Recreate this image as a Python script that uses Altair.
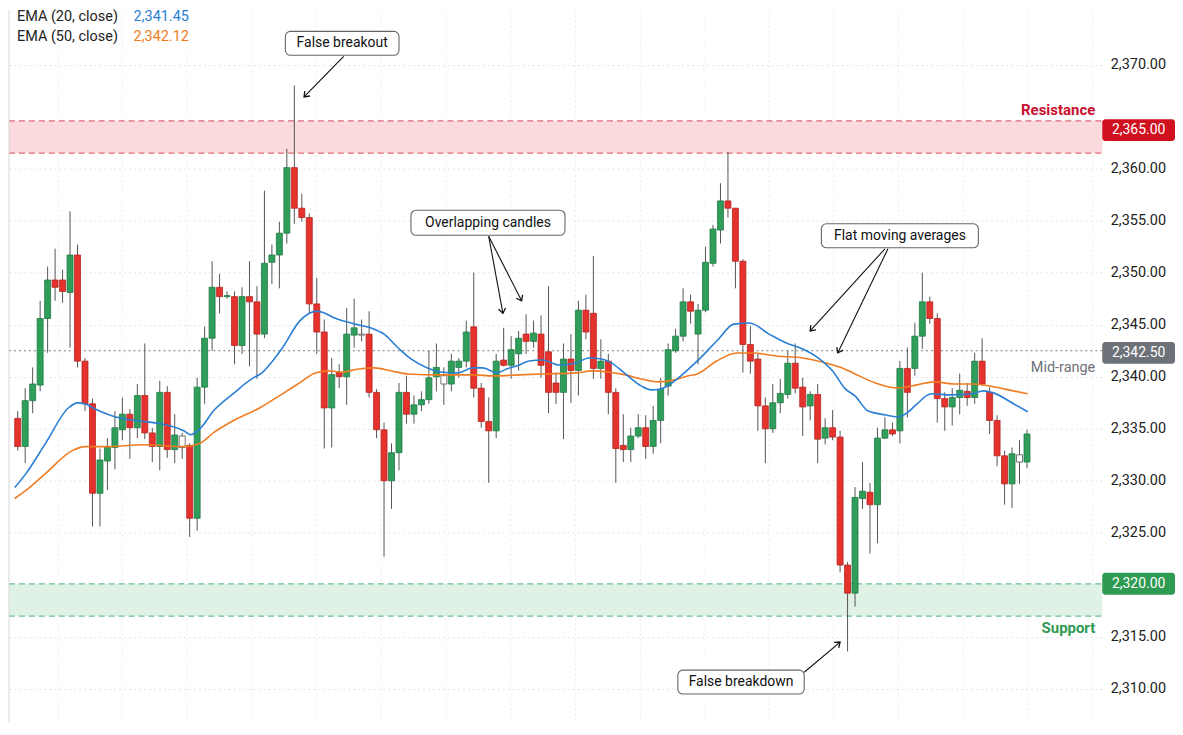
import math
import altair as alt
import pandas as pd

# ---------------- data ----------------
OPEN = [2336.0, 2333.3, 2337.7, 2339.2, 2345.6, 2349.3, 2349.3, 2348.1, 2351.7, 2341.5,
        2337.4, 2328.8, 2331.9, 2333.2, 2334.9, 2336.4, 2335.1, 2338.2, 2334.6, 2333.3,
        2338.5, 2333.0, 2333.2, 2333.4, 2326.4, 2339.0, 2343.7, 2348.6, 2347.7, 2347.7,
        2343.0, 2347.7, 2347.2, 2344.1, 2351.0, 2351.7, 2353.8, 2360.1, 2356.2, 2355.3,
        2347.0, 2344.3, 2337.0, 2340.4, 2340.0, 2344.0, 2344.1, 2344.1, 2338.5, 2334.9,
        2330.0, 2332.7, 2338.5, 2336.4, 2337.3, 2337.8, 2340.0, 2339.3, 2339.3, 2340.9,
        2341.5, 2344.8, 2338.9, 2335.7, 2334.8, 2341.6, 2341.1, 2342.2, 2344.1, 2343.4,
        2344.1, 2342.4, 2339.4, 2338.5, 2341.7, 2340.6, 2346.4, 2346.1, 2340.8, 2341.5,
        2338.5, 2333.4, 2333.0, 2334.3, 2335.1, 2333.3, 2335.8, 2339.1, 2342.5, 2343.9,
        2347.2, 2344.1, 2346.4, 2350.9, 2354.1, 2356.9, 2356.2, 2351.1, 2343.1, 2341.7,
        2337.2, 2335.0, 2337.5, 2338.3, 2341.3, 2339.0, 2337.2, 2338.3, 2334.1, 2335.1,
        2334.2, 2321.9, 2319.2, 2328.3, 2328.9, 2327.7, 2334.1, 2334.9, 2334.8, 2340.8,
        2340.8, 2343.9, 2347.2, 2345.6, 2337.9, 2337.1, 2338.0, 2338.6, 2338.0, 2341.5,
        2338.5, 2335.8, 2332.4, 2329.7, 2331.8, 2331.8]
HIGH = [2336.7, 2338.9, 2340.9, 2347.3, 2350.6, 2352.3, 2350.3, 2355.9, 2352.7, 2341.8,
        2337.9, 2333.1, 2334.1, 2336.7, 2338.0, 2336.9, 2339.3, 2343.2, 2335.1, 2339.6,
        2339.1, 2336.4, 2334.6, 2333.6, 2339.9, 2344.8, 2351.1, 2349.9, 2348.2, 2348.2,
        2348.6, 2351.1, 2348.7, 2357.9, 2352.7, 2354.9, 2361.9, 2368.0, 2357.6, 2355.7,
        2349.5, 2345.5, 2341.8, 2341.2, 2346.6, 2347.5, 2345.5, 2346.3, 2338.8, 2335.6,
        2333.6, 2339.4, 2340.1, 2338.2, 2338.6, 2342.5, 2343.2, 2340.9, 2342.2, 2341.8,
        2345.4, 2350.0, 2339.4, 2338.0, 2342.2, 2344.7, 2343.9, 2344.4, 2346.0, 2345.4,
        2345.9, 2348.7, 2340.4, 2343.2, 2344.1, 2347.3, 2347.9, 2351.6, 2343.6, 2342.2,
        2338.9, 2336.4, 2335.1, 2336.4, 2336.3, 2337.2, 2339.9, 2343.2, 2344.6, 2348.5,
        2347.9, 2347.0, 2352.5, 2354.6, 2358.6, 2361.6, 2356.2, 2351.3, 2344.9, 2342.2,
        2338.0, 2339.3, 2339.8, 2342.5, 2343.2, 2339.9, 2338.6, 2339.3, 2336.0, 2336.8,
        2334.8, 2322.2, 2329.4, 2331.8, 2329.8, 2335.1, 2336.1, 2335.6, 2341.5, 2342.8,
        2345.2, 2350.0, 2347.7, 2346.1, 2338.5, 2338.9, 2340.3, 2339.4, 2342.3, 2343.7,
        2339.0, 2336.3, 2332.9, 2333.2, 2333.9, 2334.9]
LOW = [2332.9, 2331.7, 2336.5, 2338.6, 2342.3, 2347.3, 2347.1, 2342.8, 2340.9, 2336.7,
       2325.6, 2325.6, 2329.1, 2331.1, 2333.9, 2332.1, 2334.1, 2334.0, 2331.8, 2331.0,
       2332.2, 2331.7, 2332.1, 2324.6, 2325.2, 2337.4, 2342.5, 2346.1, 2347.5, 2341.2,
       2342.2, 2341.0, 2339.8, 2343.7, 2348.9, 2348.5, 2352.8, 2354.7, 2354.9, 2346.1,
       2342.2, 2333.1, 2333.2, 2338.9, 2337.3, 2342.8, 2343.4, 2338.0, 2334.1, 2322.7,
       2327.3, 2331.0, 2335.5, 2335.5, 2336.7, 2337.4, 2338.6, 2337.3, 2338.6, 2339.9,
       2340.9, 2338.0, 2335.1, 2329.8, 2334.1, 2341.0, 2339.8, 2340.6, 2342.2, 2342.8,
       2339.9, 2336.5, 2337.4, 2334.0, 2337.5, 2338.2, 2343.6, 2339.8, 2339.8, 2336.4,
       2329.8, 2331.8, 2331.8, 2334.1, 2332.1, 2332.6, 2333.6, 2338.2, 2342.3, 2343.4,
       2345.1, 2341.2, 2346.2, 2350.6, 2352.8, 2355.3, 2348.5, 2340.4, 2340.3, 2334.8,
       2331.7, 2334.6, 2336.5, 2337.9, 2338.4, 2334.3, 2335.8, 2331.7, 2333.5, 2333.9,
       2321.2, 2313.6, 2317.9, 2327.3, 2323.0, 2324.0, 2334.0, 2334.3, 2333.6, 2336.1,
       2340.1, 2342.7, 2345.1, 2335.6, 2334.8, 2335.3, 2336.4, 2337.2, 2337.4, 2339.1,
       2334.5, 2331.4, 2327.7, 2327.4, 2329.7, 2331.2]
CLOSE = [2333.3, 2337.7, 2339.3, 2345.6, 2349.3, 2348.6, 2348.2, 2351.7, 2341.5, 2337.4,
         2328.8, 2332.0, 2333.2, 2335.1, 2336.4, 2335.1, 2338.2, 2334.6, 2333.3, 2338.5,
         2333.0, 2334.4, 2334.3, 2326.4, 2339.0, 2343.7, 2348.6, 2347.7, 2347.8, 2343.0,
         2347.7, 2347.2, 2344.1, 2350.9, 2351.7, 2353.8, 2360.1, 2356.2, 2355.3, 2347.0,
         2344.3, 2337.0, 2340.2, 2340.0, 2344.1, 2344.7, 2344.0, 2338.5, 2334.9, 2330.0,
         2332.7, 2338.5, 2336.4, 2337.3, 2337.8, 2339.9, 2340.9, 2340.1, 2341.5, 2341.5,
         2344.3, 2338.9, 2335.7, 2334.8, 2341.5, 2341.1, 2342.6, 2343.7, 2343.4, 2344.2,
         2341.1, 2338.5, 2338.5, 2341.7, 2340.6, 2346.4, 2344.3, 2340.8, 2341.5, 2338.5,
         2333.1, 2333.0, 2334.3, 2335.1, 2333.3, 2335.8, 2338.8, 2342.6, 2343.9, 2347.2,
         2346.3, 2346.4, 2351.0, 2354.2, 2356.9, 2356.2, 2351.1, 2343.1, 2341.5, 2337.2,
         2335.0, 2337.5, 2338.4, 2341.3, 2338.9, 2337.1, 2338.3, 2334.0, 2335.1, 2334.2,
         2321.9, 2319.2, 2328.4, 2329.0, 2327.7, 2334.1, 2334.9, 2334.5, 2340.8, 2338.5,
         2343.9, 2347.2, 2345.6, 2337.9, 2337.1, 2338.0, 2338.7, 2338.0, 2341.5, 2339.3,
         2335.8, 2332.4, 2329.7, 2332.6, 2332.5, 2334.5]
HOLLOW = [22, 46, 57, 134]

EMA20_X = [-0.4, 1.1, 3.7, 6.8, 8.0, 9.0, 10.3, 13.0, 16.0, 19.2, 22.2, 23.1, 24.5, 26.2,
           28.8, 31.5, 32.5, 34.1, 35.4, 37.7, 39.0, 40.1, 41.1, 42.4, 43.6, 45.1, 47.3,
           49.0, 50.9, 52.6, 54.8, 56.6, 58.8, 60.9, 62.2, 64.1, 65.4, 67.1, 68.4, 70.2,
           72.4, 74.7, 76.4, 78.1, 79.4, 81.3, 83.4, 84.7, 86.0, 87.3, 88.7, 90.9, 93.5,
           95.8, 97.9, 100.5, 102.8, 105.0, 107.1, 109.0, 110.7, 112.0, 113.7, 116.0,
           117.7, 119.0, 120.3, 122.2, 124.8, 127.5, 129.2, 130.5, 133.2, 135.1]
EMA20_Y = [2329.35, 2330.69, 2333.57, 2337.02, 2337.49, 2337.40, 2336.92, 2336.15, 2335.77,
           2335.48, 2334.81, 2334.43, 2335.10, 2336.73, 2338.36, 2339.89, 2340.27, 2341.52,
           2342.76, 2345.35, 2346.11, 2346.31, 2346.11, 2345.64, 2345.35, 2345.06, 2344.68,
           2344.10, 2342.76, 2341.71, 2340.85, 2340.46, 2340.37, 2340.85, 2340.85, 2340.37,
           2340.75, 2341.13, 2341.52, 2341.61, 2341.13, 2341.33, 2341.80, 2341.71, 2341.33,
           2340.27, 2339.12, 2338.74, 2338.83, 2339.31, 2340.08, 2341.52, 2343.43, 2345.06,
           2345.16, 2344.10, 2343.24, 2342.67, 2341.80, 2340.56, 2338.83, 2338.16, 2336.73,
           2336.34, 2336.15, 2336.54, 2337.40, 2338.36, 2338.26, 2338.36, 2338.64, 2338.45,
           2337.40, 2336.63]
EMA50_X = [-0.4, 1.1, 3.7, 7.3, 9.0, 11.7, 16.9, 22.2, 24.5, 26.2, 28.8, 32.4, 35.4, 37.7,
           39.8, 41.6, 43.4, 45.6, 47.7, 50.0, 52.2, 56.6, 60.9, 63.6, 67.1, 70.2, 74.7,
           76.8, 79.0, 81.3, 83.4, 85.6, 87.9, 89.6, 90.9, 93.5, 96.2, 98.4, 101.5, 105.0,
           108.1, 110.3, 112.0, 114.7, 117.7, 120.3, 122.6, 125.2, 127.9, 130.5, 133.2, 135.1]
EMA50_Y = [2328.30, 2329.07, 2330.69, 2332.90, 2333.28, 2333.28, 2333.47, 2333.28, 2333.66,
           2334.62, 2335.77, 2337.02, 2338.36, 2339.41, 2340.37, 2340.56, 2340.46, 2340.75,
           2340.85, 2340.56, 2340.27, 2340.18, 2340.18, 2340.08, 2340.18, 2340.27, 2340.37,
           2340.56, 2340.46, 2340.18, 2339.79, 2339.51, 2339.70, 2340.08, 2340.27, 2341.52,
           2342.28, 2342.28, 2341.99, 2341.80, 2341.33, 2340.85, 2340.27, 2339.41, 2338.93,
           2339.22, 2339.51, 2339.31, 2339.31, 2339.03, 2338.64, 2338.36]

RES_LO, RES_HI = 2361.5, 2364.6
SUP_LO, SUP_HI = 2317.0, 2320.1
MID = 2342.5

TAG_TEXT = ["2,365.00", "2,342.50", "2,320.00"]
TAG_PRICE = [2363.7, 2342.3, 2320.1]
TAG_KIND = ["res", "mid", "sup"]

ZONE_TEXT = ["Resistance", "Mid-range", "Support"]
ZONE_TEXT_PRICE = [2365.65, 2340.85, 2315.85]

BOX_TEXT = ["False breakout", "Overlapping candles", "Flat moving averages", "False breakdown"]
BOX_X0 = [35.8, 52.6, 107.5, 88.3]
BOX_X1 = [51.0, 73.2, 128.5, 105.2]
BOX_TOP = [2373.2, 2356.0, 2354.7, 2311.8]
BOX_BOT = [2370.9, 2353.6, 2352.4, 2309.5]

ARROW_X1 = [43.6, 63.0, 63.0, 116.0, 116.4, 105.2]
ARROW_Y1 = [2370.8, 2353.5, 2353.5, 2352.3, 2352.3, 2311.6]
ARROW_X2 = [38.3, 64.9, 67.4, 106.0, 109.7, 110.0]
ARROW_Y2 = [2366.9, 2346.1, 2347.3, 2344.4, 2342.3, 2314.5]

Y_TICKS = [2310, 2315, 2325, 2330, 2335, 2340, 2345, 2350, 2355, 2360, 2370]

# ---------------- layout ----------------
W, H = 1097, 715
XMIN, XMAX = -0.5, 144.4
YMIN, YMAX = 2306.74, 2375.23
FONT = "Roboto"
TAG_HALF = 1.05

xs = alt.Scale(domain=[XMIN, XMAX], nice=False, zero=False)
ys = alt.Scale(domain=[YMIN, YMAX], nice=False, zero=False)

n = len(OPEN)
kind = []
for i in range(n):
    if i in HOLLOW:
        kind.append("hollow")
    elif CLOSE[i] >= OPEN[i]:
        kind.append("up")
    else:
        kind.append("down")
candles = pd.DataFrame({"i": list(range(n)), "o": OPEN, "h": HIGH, "l": LOW,
                        "c": CLOSE, "k": kind})

ema20 = pd.DataFrame({"x": EMA20_X, "y": EMA20_Y})
ema50 = pd.DataFrame({"x": EMA50_X, "y": EMA50_Y})

X = alt.X("i:Q", scale=xs, title=None,
          axis=alt.Axis(labels=False, ticks=False, domain=False, grid=True,
                        values=[5.3 + 8.65 * k for k in range(17)],
                        gridColor="#ececec", gridDash=[2, 3]))
Y_AX = alt.Axis(orient="right", values=Y_TICKS, format=",.2f", title=None,
                domain=False, ticks=False, labelPadding=8, labelFontSize=14.5,
                labelColor="#222222", labelFont=FONT, grid=True,
                gridColor="#e4e4e4", gridDash=[2, 3])

wicks = alt.Chart(candles).mark_rule(color="#555555", strokeWidth=1).encode(
    x=X, y=alt.Y("l:Q", scale=ys, axis=Y_AX), y2="h:Q")

bodies = alt.Chart(candles).mark_bar(size=6, strokeWidth=0.8).encode(
    x=alt.X("i:Q", scale=xs),
    y=alt.Y("o:Q", scale=ys),
    y2="c:Q",
    fill=alt.Fill("k:N", scale=alt.Scale(domain=["up", "down", "hollow"],
                                         range=["#2f9e5a", "#e5322d", "#ffffff"]),
                  legend=None),
    stroke=alt.Stroke("k:N", scale=alt.Scale(domain=["up", "down", "hollow"],
                                             range=["#1f7a43", "#b52420", "#555555"]),
                      legend=None),
)

# zones
zones = pd.DataFrame({"lo": [RES_LO, SUP_LO], "hi": [RES_HI, SUP_HI], "z": ["res", "sup"]})
zone_rect = alt.Chart(zones).mark_rect().encode(
    x=alt.value(0), x2=alt.value(W),
    y=alt.Y("lo:Q", scale=ys), y2="hi:Q",
    fill=alt.Fill("z:N", scale=alt.Scale(domain=["res", "sup"], range=["#fadadd", "#dff2e5"]),
                  legend=None))
zone_edges = pd.DataFrame({"y": [RES_LO, RES_HI, SUP_LO, SUP_HI],
                           "z": ["res", "res", "sup", "sup"]})
zone_lines = alt.Chart(zone_edges).mark_rule(strokeDash=[6, 4], strokeWidth=1.2).encode(
    x=alt.value(0), x2=alt.value(W),
    y=alt.Y("y:Q", scale=ys),
    color=alt.Color("z:N", scale=alt.Scale(domain=["res", "sup"], range=["#e06a78", "#6cc08c"]),
                    legend=None))
mid_line = alt.Chart(pd.DataFrame({"y": [MID]})).mark_rule(
    strokeDash=[2, 3], color="#777777", strokeWidth=1.2).encode(
    x=alt.value(0), x2=alt.value(W), y=alt.Y("y:Q", scale=ys))

left_border = alt.Chart(pd.DataFrame({"a": [0]})).mark_rule(color="#d8d8d8").encode(
    x=alt.value(0), y=alt.value(0), y2=alt.value(H))

# EMA lines
l20 = alt.Chart(ema20).mark_line(color="#2a7fd4", strokeWidth=1.6, interpolate="monotone").encode(
    x=alt.X("x:Q", scale=xs), y=alt.Y("y:Q", scale=ys))
l50 = alt.Chart(ema50).mark_line(color="#f07c22", strokeWidth=1.6, interpolate="monotone").encode(
    x=alt.X("x:Q", scale=xs), y=alt.Y("y:Q", scale=ys))

# right tags
tags = pd.DataFrame({"t": TAG_TEXT, "p": TAG_PRICE, "k": TAG_KIND})
tags["lo"] = tags["p"] - TAG_HALF
tags["hi"] = tags["p"] + TAG_HALF
tag_rect = alt.Chart(tags).mark_rect(cornerRadius=3).encode(
    x=alt.value(W), x2=alt.value(W + 73),
    y=alt.Y("lo:Q", scale=ys), y2="hi:Q",
    fill=alt.Fill("k:N", scale=alt.Scale(domain=["res", "mid", "sup"],
                                         range=["#d0101f", "#6d7178", "#2e9a52"]),
                  legend=None))
tag_text = alt.Chart(tags).mark_text(color="white", fontSize=14, font=FONT,
                                     align="center", baseline="middle").encode(
    x=alt.value(W + 36.5), y=alt.Y("p:Q", scale=ys), text="t:N")

ztext = pd.DataFrame({"t": ZONE_TEXT, "p": ZONE_TEXT_PRICE, "k": ["res", "mid", "sup"]})
zone_label_bold = alt.Chart(ztext[ztext.k != "mid"]).mark_text(
    fontSize=15, fontWeight="bold", font=FONT, align="right", baseline="middle").encode(
    x=alt.value(W - 7), y=alt.Y("p:Q", scale=ys), text="t:N",
    color=alt.Color("k:N", scale=alt.Scale(domain=["res", "sup"], range=["#c8102e", "#2e9a52"]),
                    legend=None))
zone_label_mid = alt.Chart(ztext[ztext.k == "mid"]).mark_text(
    fontSize=14.5, font=FONT, align="right", baseline="middle", color="#6d7178").encode(
    x=alt.value(W - 7), y=alt.Y("p:Q", scale=ys), text="t:N")

# annotation boxes
boxes = pd.DataFrame({"t": BOX_TEXT, "x0": BOX_X0, "x1": BOX_X1, "y0": BOX_TOP, "y1": BOX_BOT})
boxes["xc"] = (boxes["x0"] + boxes["x1"]) / 2
boxes["yc"] = (boxes["y0"] + boxes["y1"]) / 2
box_rect = alt.Chart(boxes).mark_rect(cornerRadius=5, fill="white", stroke="#666666",
                                      strokeWidth=1.1).encode(
    x=alt.X("x0:Q", scale=xs), x2="x1:Q", y=alt.Y("y0:Q", scale=ys), y2="y1:Q")
box_text = alt.Chart(boxes).mark_text(fontSize=14, font=FONT, color="#111111",
                                      align="center", baseline="middle").encode(
    x=alt.X("xc:Q", scale=xs), y=alt.Y("yc:Q", scale=ys), text="t:N")

# arrows
kx = W / (XMAX - XMIN)
ky = H / (YMAX - YMIN)
angles = []
for a, b, c, d in zip(ARROW_X1, ARROW_Y1, ARROW_X2, ARROW_Y2):
    dx = (c - a) * kx
    dy = -(d - b) * ky
    angles.append((math.degrees(math.atan2(dy, dx)) + 360) % 360)
arrows = pd.DataFrame({"x1": ARROW_X1, "y1": ARROW_Y1, "x2": ARROW_X2, "y2": ARROW_Y2,
                       "ang": angles})
arrow_line = alt.Chart(arrows).mark_rule(color="#111111", strokeWidth=1.1).encode(
    x=alt.X("x1:Q", scale=xs), y=alt.Y("y1:Q", scale=ys), x2="x2:Q", y2="y2:Q")
arrow_head = alt.Chart(arrows).mark_point(
    shape="M -1 -0.75 L 0 0 L -1 0.75", filled=False, size=90, color="#111111",
    strokeWidth=1.3, opacity=1).encode(
    x=alt.X("x2:Q", scale=xs), y=alt.Y("y2:Q", scale=ys),
    angle=alt.Angle("ang:Q", scale=None))

# legend (top-left)
leg = pd.DataFrame({"t": ["EMA (20, close)", "EMA (50, close)"],
                    "v": ["2,341.45", "2,342.12"], "row": [0, 1]})
leg_label = alt.Chart(leg).mark_text(fontSize=14.5, font=FONT, color="#222222",
                                     align="left", baseline="middle").encode(
    x=alt.value(8), y=alt.Y("row:Q", scale=alt.Scale(domain=[0, 1], range=[7, 27]), axis=None),
    text="t:N")
leg_val = alt.Chart(leg).mark_text(fontSize=14.5, font=FONT, align="left",
                                   baseline="middle").encode(
    x=alt.value(125), y=alt.Y("row:Q", scale=alt.Scale(domain=[0, 1], range=[7, 27]), axis=None),
    text="v:N",
    color=alt.Color("row:N", scale=alt.Scale(domain=[0, 1], range=["#2a7fd4", "#f07c22"]),
                    legend=None))

chart = alt.layer(
    zone_rect, zone_lines, mid_line, left_border, wicks, bodies, l50, l20,
    arrow_line, arrow_head, box_rect, box_text, tag_rect, tag_text,
    zone_label_bold, zone_label_mid,
).resolve_scale(fill="independent", color="independent", stroke="independent")

chart = alt.layer(chart, alt.layer(leg_label, leg_val).resolve_scale(y="independent")
                  ).resolve_scale(y="independent", color="independent").properties(
    width=W, height=H, padding={"left": 0, "top": 0, "right": 0, "bottom": 0}
).configure(font=FONT, background="white").configure_view(stroke="transparent", strokeWidth=0)

chart.save("out.html", embed_options={"renderer": "svg", "actions": False})
